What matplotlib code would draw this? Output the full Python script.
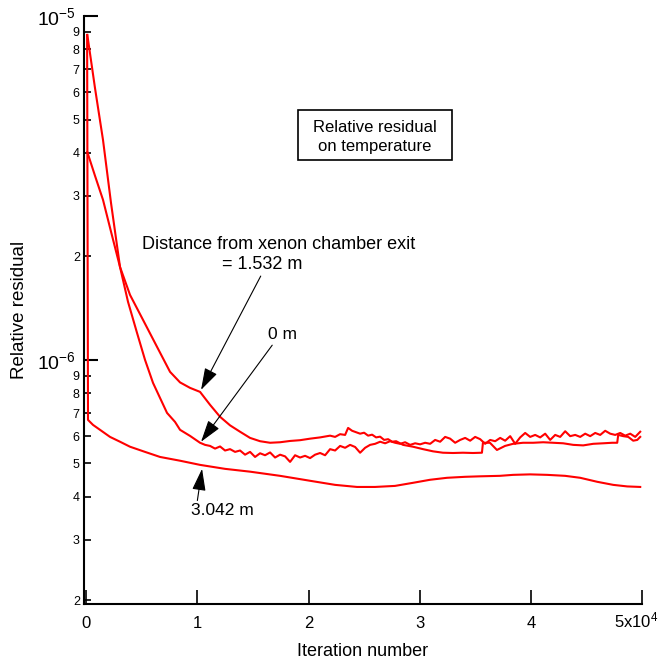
import numpy as np
import matplotlib
matplotlib.use('Agg')
import matplotlib.pyplot as plt
import matplotlib.transforms as mtransforms
from matplotlib.patches import Rectangle
from matplotlib.ticker import LogLocator, FuncFormatter, FixedLocator, NullLocator

plt.rcParams['font.family'] = ['Liberation Sans', 'DejaVu Sans']
plt.rcParams['mathtext.default'] = 'regular'

# distance 0 m
iter_0m = [100, 790, 1510, 2230, 3040, 3760, 4570, 5290, 6010, 6640, 7270, 7990, 8440, 9340,
           10240, 10690, 11140, 11590, 12040, 12490, 12940, 13390, 13840, 14290, 14740,
           15190, 15640, 16090, 16540, 16990, 17440, 17890, 18340, 18790, 19240, 19690,
           20140, 20590, 21040, 21490, 21940, 22390, 22840, 23290, 23740, 24190, 24640,
           25090, 25540, 25990, 26440, 26890, 27340, 27790, 28240, 28690, 29140, 29590,
           30040, 30490, 30940, 31390, 31840, 32290, 32740, 33190, 33640, 34090, 34540,
           34990, 35440, 35890, 36340, 36790, 37240, 37690, 38140, 38590, 39040, 39490,
           39940, 40390, 40840, 41290, 41740, 42190, 42640, 43090, 43540, 43990, 44440,
           44890, 45340, 45790, 46240, 46690, 47140, 47590, 48040, 48490, 48940, 49390, 49840]
res_0m = [8.81e-6, 6.17e-6, 4.36e-6, 2.86e-6, 1.863e-6, 1.475e-6, 1.198e-6, 1.0e-6, 8.57e-7,
          7.75e-7, 7.01e-7, 6.60e-7, 6.26e-7, 6.01e-7,
          5.74e-7, 5.66e-7, 5.62e-7, 5.52e-7, 5.60e-7, 5.45e-7, 5.50e-7, 5.40e-7, 5.45e-7,
          5.30e-7, 5.40e-7, 5.22e-7, 5.35e-7, 5.28e-7, 5.38e-7, 5.20e-7, 5.30e-7, 5.24e-7,
          5.05e-7, 5.28e-7, 5.20e-7, 5.26e-7, 5.18e-7, 5.30e-7, 5.36e-7, 5.28e-7, 5.50e-7,
          5.45e-7, 5.62e-7, 5.55e-7, 5.66e-7, 5.58e-7, 5.37e-7, 5.55e-7, 5.66e-7, 5.70e-7,
          5.78e-7, 5.72e-7, 5.80e-7, 5.74e-7, 5.70e-7, 5.76e-7, 5.66e-7, 5.72e-7, 5.68e-7,
          5.74e-7, 5.70e-7, 5.85e-7, 5.78e-7, 5.97e-7, 5.90e-7, 5.74e-7, 5.85e-7, 5.93e-7,
          5.82e-7, 5.97e-7, 5.88e-7, 5.70e-7, 5.85e-7, 5.80e-7, 5.93e-7, 5.82e-7, 6.00e-7,
          5.70e-7, 5.95e-7, 6.13e-7, 5.97e-7, 6.05e-7, 5.95e-7, 6.10e-7, 5.85e-7, 6.05e-7,
          5.97e-7, 6.20e-7, 6.00e-7, 6.05e-7, 5.97e-7, 6.10e-7, 6.00e-7, 6.13e-7, 6.05e-7,
          6.22e-7, 6.10e-7, 6.05e-7, 6.13e-7, 6.02e-7, 6.10e-7, 5.97e-7, 6.18e-7]

# distance 1.532 m
iter_1532m = [100, 790, 1510, 2230, 3040, 3940, 5110, 6370, 7540, 8440, 9340, 10240, 11140,
              12040, 12940, 13840, 14740, 15640, 16540, 17440, 18340, 19240, 20140, 21040,
              21940, 22390, 22840, 23290, 23560, 23920, 24280, 24640, 25000, 25360, 25720,
              26080, 26440, 26800, 27160, 27520, 27880, 28500, 29400, 30300, 31200, 32090,
              32990, 33890, 34790, 35600, 35690, 36320, 36950, 37680, 38400, 39300, 40210,
              41110, 42010, 42910, 43810, 44710, 45610, 46510, 47320, 47770, 47860, 48310,
              48760, 49210, 49570, 49840]
res_1532m = [4.02e-6, 3.43e-6, 2.92e-6, 2.36e-6, 1.863e-6, 1.545e-6, 1.307e-6, 1.091e-6,
             9.23e-7, 8.60e-7, 8.29e-7, 8.07e-7, 7.40e-7, 6.83e-7, 6.45e-7, 6.18e-7, 5.93e-7,
             5.80e-7, 5.74e-7, 5.76e-7, 5.81e-7, 5.84e-7, 5.90e-7, 5.95e-7, 6.02e-7, 5.97e-7,
             6.08e-7, 6.05e-7, 6.34e-7, 6.22e-7, 6.16e-7, 6.10e-7, 6.14e-7, 6.02e-7, 6.06e-7,
             5.95e-7, 5.98e-7, 5.85e-7, 5.88e-7, 5.78e-7, 5.80e-7, 5.66e-7, 5.59e-7, 5.50e-7,
             5.42e-7, 5.37e-7, 5.36e-7, 5.37e-7, 5.36e-7, 5.37e-7, 5.74e-7, 5.74e-7, 5.47e-7,
             5.62e-7, 5.70e-7, 5.74e-7, 5.74e-7, 5.76e-7, 5.74e-7, 5.72e-7, 5.66e-7, 5.64e-7,
             5.70e-7, 5.72e-7, 5.74e-7, 5.74e-7, 6.05e-7, 6.00e-7, 5.97e-7, 5.82e-7, 5.85e-7,
             5.97e-7]

# distance 3.042 m
iter_3042m = [80, 160, 610, 1240, 2140, 3040, 3940, 5290, 6640, 8440, 10240, 12490, 14740,
              17440, 20140, 22390, 24360, 25980, 27780, 29400, 30930, 32460, 34080, 35420,
              37220, 38400, 39930, 41470, 43080, 44440, 45970, 47410, 48670, 49840]
res_3042m = [8.81e-6, 6.69e-7, 6.47e-7, 6.26e-7, 5.97e-7, 5.78e-7, 5.59e-7, 5.40e-7, 5.22e-7,
             5.09e-7, 4.95e-7, 4.82e-7, 4.73e-7, 4.60e-7, 4.45e-7, 4.33e-7, 4.27e-7, 4.27e-7,
             4.30e-7, 4.39e-7, 4.48e-7, 4.54e-7, 4.57e-7, 4.585e-7, 4.60e-7, 4.63e-7, 4.645e-7,
             4.63e-7, 4.60e-7, 4.54e-7, 4.42e-7, 4.33e-7, 4.285e-7, 4.27e-7]

x_ticks = [0, 10000, 20000, 30000, 40000, 50000]
x_ticklabels = ['0', '1', '2', '3', '4', '5x10$^{4}$']

fig = plt.figure(figsize=(6.63, 6.60), dpi=100)
ax = fig.add_axes([84 / 663, 56 / 660, 558 / 663, 588 / 660])

for xs, ys in [(iter_0m, res_0m), (iter_1532m, res_1532m), (iter_3042m, res_3042m)]:
    ax.plot(xs, ys, color='red', lw=1.5)

ax.set_yscale('log')
ax.set_xlim(-200, 50000)
ax.set_ylim(1.95e-7, 1e-5)

ax.spines['top'].set_visible(False)
ax.spines['right'].set_visible(False)
for s in ['left', 'bottom']:
    ax.spines[s].set_linewidth(1.5)

ax.xaxis.set_major_locator(FixedLocator(x_ticks))
ax.set_xticklabels(x_ticklabels)
ax.xaxis.set_minor_locator(NullLocator())
ax.tick_params(axis='x', direction='in', length=10, width=1.2, labelsize=12, pad=17)

ax.yaxis.set_major_locator(LogLocator(base=10))
ax.yaxis.set_minor_locator(LogLocator(base=10, subs=np.arange(2, 10)))
ax.yaxis.set_major_formatter(FuncFormatter(lambda v, p: '$10^{%d}$' % round(np.log10(v))))
ax.yaxis.set_minor_formatter(FuncFormatter(lambda v, p: '%d' % round(v / 10 ** np.floor(np.log10(v) + 1e-9))))
ax.tick_params(axis='y', which='major', direction='in', length=10, width=1.5, labelsize=14, pad=6)
ax.tick_params(axis='y', which='minor', direction='in', length=5, width=1.2, labelsize=9, pad=3)

# baseline-align x labels so the superscript on the last one sits above the line
for lab in ax.get_xticklabels():
    lab.set_verticalalignment('baseline')
last = ax.xaxis.get_major_ticks()[-1].label1
last.set_transform(last.get_transform() + mtransforms.ScaledTranslation(-6 / 100, 0, fig.dpi_scale_trans))

ax.set_xlabel('Iteration number', fontsize=13, labelpad=9)
ax.set_ylabel('Relative residual', fontsize=13.5, labelpad=6)

arrow = dict(arrowstyle='-|>,head_length=0.9,head_width=0.28', color='black', lw=0.8,
             mutation_scale=15, shrinkA=0, shrinkB=0)

ax.text(17280, 2.16e-6, 'Distance from xenon chamber exit', fontsize=13, ha='center', va='center')
ax.annotate('= 1.532 m', xy=(10330, 8.18e-7), xytext=(15830, 1.89e-6), fontsize=13,
            ha='center', va='center', arrowprops=dict(arrow, relpos=(0.5, 0)))
ax.annotate('0 m', xy=(10330, 5.78e-7), xytext=(17700, 1.182e-6), fontsize=12.5,
            ha='center', va='center', arrowprops=dict(arrow, relpos=(0.2, 0)))
ax.annotate('3.042 m', xy=(10420, 4.82e-7), xytext=(12220, 3.64e-7), fontsize=12.5,
            ha='center', va='center', arrowprops=dict(arrow, relpos=(0.1, 1)))

ax.add_patch(Rectangle((0.3835, 0.7551), 0.276, 0.085, transform=ax.transAxes,
                       fill=False, ec='black', lw=1.2))
ax.text(0.5215, 0.794, 'Relative residual\non temperature', transform=ax.transAxes,
        fontsize=12, ha='center', va='center', linespacing=1.35)

fig.savefig('out.png', dpi=100)
